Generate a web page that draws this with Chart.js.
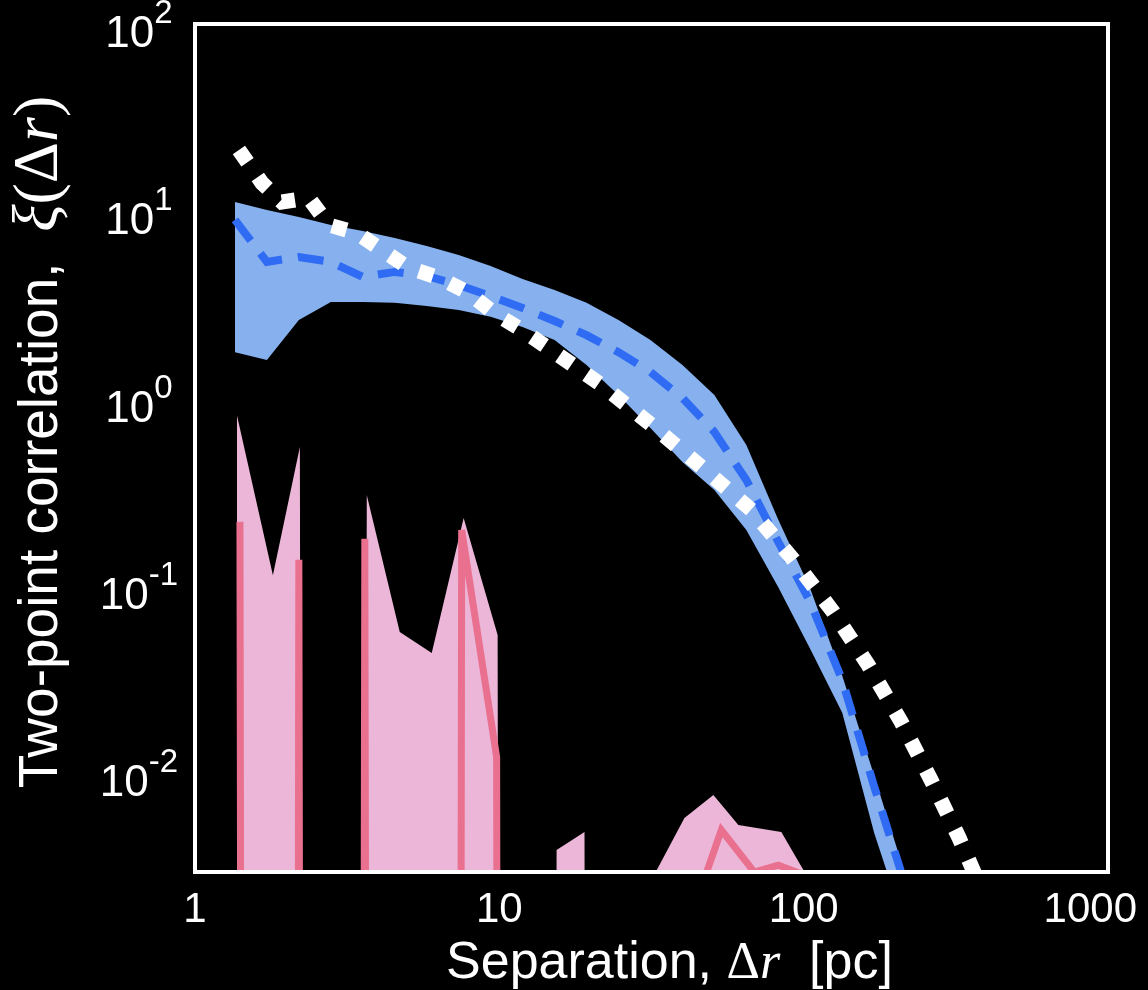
<!DOCTYPE html>
<html>
<head>
<meta charset="utf-8">
<title>Two-point correlation</title>
<script src="https://cdn.jsdelivr.net/npm/chart.js@4.4.1/dist/chart.umd.min.js"></script>
<style>
  html, body { margin: 0; padding: 0; background: #000; }
  canvas { display: block; }
</style>
</head>
<body>
<canvas id="chart" width="1148" height="990"></canvas>
<script>
// values, separation in pc
const blueSep = [1.353, 1.723, 2.194, 2.795, 3.559, 4.533, 5.773, 7.352, 9.363, 11.92, 15.19, 19.34, 24.63, 31.37, 39.96, 50.89, 64.81, 82.53, 105.1, 133.9, 170.5, 217.1];
const blueUpper = [12.25, 11.10, 10.19, 9.23, 8.58, 7.87, 7.13, 6.38, 5.57, 4.75, 4.15, 3.54, 2.87, 2.24, 1.65, 1.14, 0.616, 0.245, 0.105, 0.036, 0.0105, 0.003];
const blueLower = [1.93, 1.75, 2.87, 3.58, 3.58, 3.54, 3.41, 3.24, 2.98, 2.63, 2.24, 1.65, 1.14, 0.759, 0.499, 0.354, 0.216, 0.107, 0.050, 0.0228, 0.0052, 0.00157];
const blueMedian = [9.82, 5.86, 6.23, 5.86, 4.87, 5.18, 4.93, 4.41, 3.85, 3.32, 2.83, 2.38, 1.93, 1.51, 1.10, 0.723, 0.400, 0.187, 0.0892, 0.034, 0.0092, 0.00264];

const modelSep = [1.394, 1.660, 1.930, 2.366, 2.753, 3.401, 4.109, 5.039, 6.370, 7.930, 9.578, 11.84, 14.30, 21.66, 31.61, 46.13, 67.30, 92.45, 125.1, 162.9, 209.1, 262.3, 324.2, 397.5];
const modelXi = [23.23, 15.48, 12.25, 12.87, 9.23, 8.37, 6.79, 5.44, 4.81, 4.00, 3.13, 2.54, 2.06, 1.29, 0.788, 0.470, 0.277, 0.150, 0.0788, 0.0411, 0.0204, 0.00997, 0.00489, 0.00228];

const pinkBandSep = [1.373, 1.803, 2.211, 2.838, 3.668, 4.708, 5.996, 7.634, 9.872, 12.57, 15.42, 19.05, 24.27, 31.61, 40.57, 50.50, 61.01, 84.44, 104.3, 132.9];
const pinkUpper = [0.891, 0.124, 0.601, 0, 0.333, 0.0617, 0.0476, 0.251, 0.0594, 0, 0.00421, 0.00526, 0, 0.00291, 0.00625, 0.00829, 0.00573, 0.00526, 0.00291, 0];
const pinkSep = [1.405, 1.789, 2.194, 2.838, 3.614, 4.708, 5.996, 7.521, 9.797, 12.57, 42.77, 53.64, 68.84, 82.53, 96.0, 114.2];
const pinkXi = [0.239, 0, 0.150, 0, 0.194, 0, 0, 0.216, 0.01324, 0, 0.00187, 0.00539, 0.00321, 0.00350, 0.00318, 0.00178];

const xTicks = [1, 10, 100, 1000];
const yTickExponents = [2, 1, 0, -1, -2];

// zeros go straight down on a log axis, like matplotlib's clipping
const LOG_FLOOR = 1e-100;
const pts = (xs, ys) => xs.map((v, i) => ({ x: v, y: ys[i] > 0 ? ys[i] : LOG_FLOOR }));

const sans = '"Liberation Sans", Arial, Helvetica, sans-serif';
const serif = '"Liberation Serif", "Times New Roman", serif';

// draw a row of text pieces centred on x, baseline y
function drawRuns(ctx, runs, x, y) {
  const widths = runs.map(([t, f]) => { ctx.font = f; return ctx.measureText(t).width; });
  let cx = x - widths.reduce((s, w) => s + w, 0) / 2;
  runs.forEach(([t, f, dy = 0], i) => {
    ctx.font = f;
    ctx.fillText(t, cx, y + dy);
    cx += widths[i];
  });
}

const axisText = {
  id: 'axisText',
  afterDraw(chart) {
    const { ctx, chartArea: a, scales: { x, y } } = chart;
    ctx.save();
    ctx.strokeStyle = '#fff';
    ctx.lineWidth = 4;
    ctx.strokeRect(a.left, a.top, a.right - a.left, a.bottom - a.top);

    ctx.fillStyle = '#fff';
    ctx.textAlign = 'left';
    ctx.textBaseline = 'alphabetic';

    // y tick labels 10^n
    yTickExponents.forEach(e => {
      const py = y.getPixelForValue(Math.pow(10, e));
      drawRuns(ctx, [['10', `44px ${sans}`], [String(e), `33px ${sans}`, -24]], a.left - 56, py + 16);
    });

    // x tick labels, kept inside the canvas
    ctx.font = `42px ${sans}`;
    xTicks.forEach(v => {
      const label = String(v);
      const w = ctx.measureText(label).width;
      const px = Math.min(x.getPixelForValue(v), chart.width - 11 - w / 2);
      ctx.fillText(label, px - w / 2, a.bottom + 50);
    });

    // axis titles
    drawRuns(ctx, [
      ['Separation, ', `52px ${sans}`],
      ['Δ', `52px ${serif}`],
      ['r', `italic 52px ${serif}`],
      ['  [pc]', `52px ${sans}`]
    ], (a.left + a.right) / 2 + 18, a.bottom + 106);

    ctx.translate(57, (a.top + a.bottom) / 2 - 6);
    ctx.rotate(-Math.PI / 2);
    drawRuns(ctx, [
      ['Two-point correlation,  ', `55px ${sans}`],
      ['ξ', `italic 64px ${serif}`],
      ['(Δ', `64px ${serif}`],
      ['r', `italic 64px ${serif}`],
      [')', `64px ${serif}`]
    ], 0, 0);
    ctx.restore();
  }
};

new Chart(document.getElementById('chart'), {
  type: 'line',
  data: {
    datasets: [
      { data: pts(pinkBandSep, pinkUpper), borderColor: 'rgba(0,0,0,0)', borderWidth: 0, fill: 'start', backgroundColor: '#ebb6d7', order: 5 },
      { data: pts(pinkSep, pinkXi), borderColor: '#e9708f', borderWidth: 7, fill: false, order: 4 },
      { data: pts(blueSep, blueLower), borderColor: 'rgba(0,0,0,0)', borderWidth: 0, fill: false, order: 3 },
      { data: pts(blueSep, blueUpper), borderColor: 'rgba(0,0,0,0)', borderWidth: 0, fill: '-1', backgroundColor: '#86b1ee', order: 2 },
      { data: pts(blueSep, blueMedian), borderColor: '#2f6cf3', borderWidth: 8, borderDash: [26, 16], fill: false, order: 1 },
      { data: pts(modelSep, modelXi), borderColor: '#ffffff', borderWidth: 15, borderDash: [15, 18], fill: false, order: 0 }
    ]
  },
  options: {
    responsive: false,
    devicePixelRatio: 1,
    animation: false,
    elements: { point: { radius: 0 }, line: { tension: 0 } },
    layout: { padding: { top: 24, right: 40, left: 0, bottom: 0 } },
    plugins: { legend: { display: false }, tooltip: { enabled: false } },
    scales: {
      x: {
        type: 'logarithmic', min: 1, max: 1000,
        grid: { display: false }, border: { display: false }, ticks: { display: false },
        afterFit: s => { s.height = 118; }
      },
      y: {
        type: 'logarithmic', min: 0.003214, max: 109.5,
        grid: { display: false }, border: { display: false }, ticks: { display: false },
        afterFit: s => { s.width = 195; }
      }
    }
  },
  plugins: [axisText]
});
</script>
</body>
</html>
